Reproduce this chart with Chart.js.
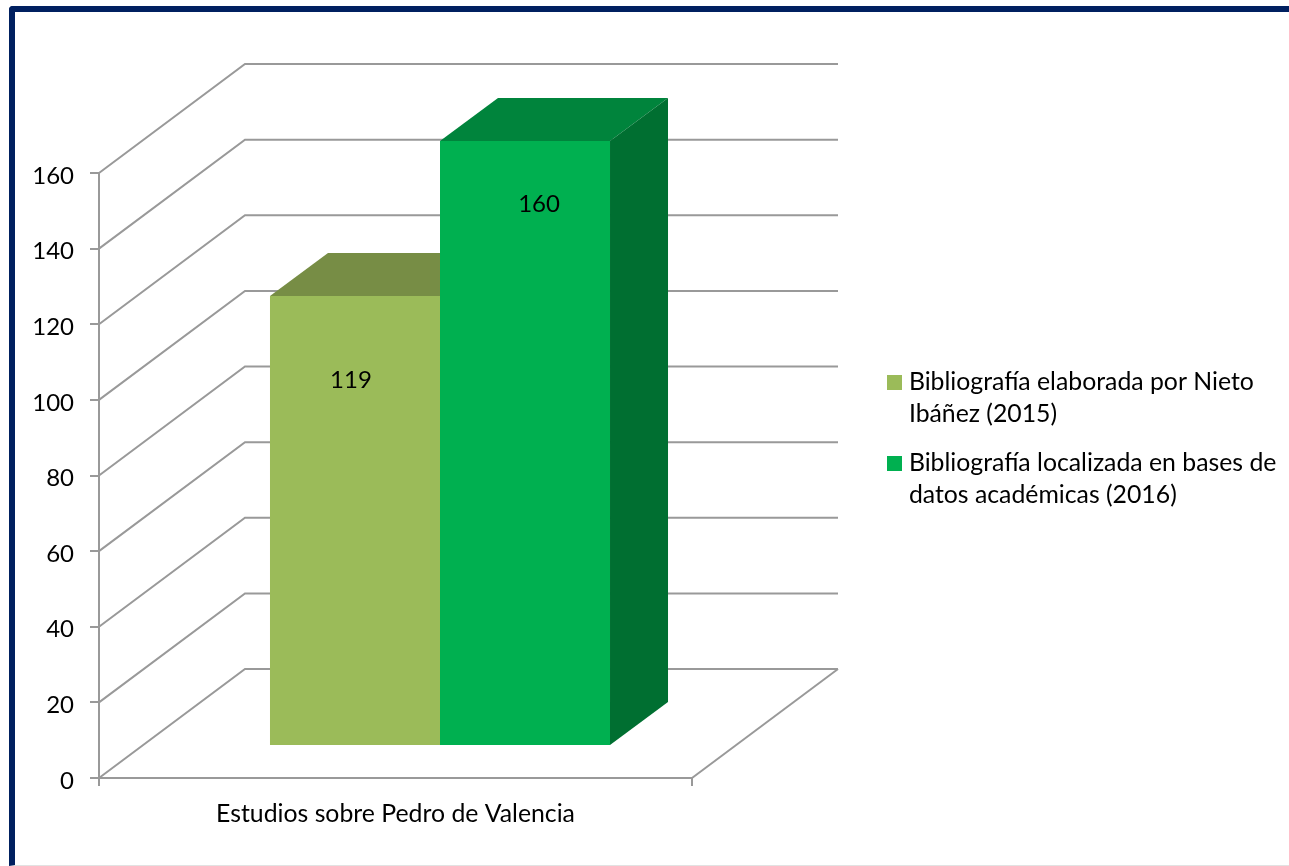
<!DOCTYPE html>
<html>
<head>
<meta charset="utf-8">
<script src="https://cdn.jsdelivr.net/npm/chart.js@4/dist/chart.umd.js"></script>
<style>
  html, body { margin: 0; background: #fff; overflow: hidden; }
  #wrap { position: relative; width: 1289px; height: 866px; }
  #frame { position: absolute; left: 9px; top: 6px; right: 0; bottom: 0; box-sizing: border-box;
           border-left: 6px solid #002060; border-top: 6px solid #002060; border-bottom: 1px solid #e2e2e2;
           border-top-left-radius: 4px; pointer-events: none; }
  canvas { display: block; }
</style>
</head>
<body>
<div id="wrap">
  <canvas id="barChart3d" width="1289" height="866"></canvas>
  <div id="frame"></div>
</div>
<script>
var categories = ['Estudios sobre Pedro de Valencia'];
var seriesNames = [
    ['Bibliografía elaborada por Nieto', 'Ibáñez (2015)'],
    ['Bibliografía localizada en bases de', 'datos académicas (2016)']
];
var nietoValues = [119];
var basesValues = [160];
var yMax = 160;
var yStep = 20;

var frontColors = ['#9bbb59', '#00b050'];
var topColors = ['#778d45', '#00843c'];
var sideColors = ['#657a3a', '#006f31'];

var fontName = 'Lato, sans-serif';
var gridColor = '#999999';

// fake 3D: how far the back wall and the bar depth sit from the front plane
var wallDx = 146, wallDy = -109;
var barDx = 58, barDy = -43;
var barShiftX = 44.5, barShiftY = -32;
var labelShift = [[-4, 84], [14, 63]];

function poly(ctx, pts, color) {
    ctx.fillStyle = color;
    ctx.beginPath();
    ctx.moveTo(pts[0][0], pts[0][1]);
    for (var i = 1; i < pts.length; i++) ctx.lineTo(pts[i][0], pts[i][1]);
    ctx.closePath();
    ctx.fill();
}

var box3d = {
    id: 'box3d',
    beforeLayout: function(chart) {
        // reserve a fixed strip for the legend so the front plane ends at x=692
        var legend = chart.legend;
        if (legend.fit !== legend.constructor.prototype.fit) return;
        legend.fit = function() {
            legend.constructor.prototype.fit.call(legend);
            legend.width = 597;
        };
    },
    beforeDatasetsDraw: function(chart) {
        var ctx = chart.ctx, yScale = chart.scales.y, area = chart.chartArea;

        // walls and floor
        ctx.save();
        ctx.strokeStyle = gridColor;
        ctx.lineWidth = 2;
        yScale.ticks.forEach(function(t) {
            var y = yScale.getPixelForValue(t.value);
            ctx.beginPath();
            ctx.moveTo(area.left, y);
            ctx.lineTo(area.left + wallDx, y + wallDy);
            ctx.lineTo(area.right + wallDx, y + wallDy);
            ctx.stroke();
        });
        ctx.beginPath();
        ctx.moveTo(area.right, area.bottom);
        ctx.lineTo(area.right + wallDx, area.bottom + wallDy);
        ctx.stroke();
        ctx.restore();

        // shift the bars off the front plane, the library draws the front faces after this
        ctx.save();
        ctx.translate(barShiftX, barShiftY);
        chart.data.datasets.forEach(function(ds, i) {
            var bar = chart.getDatasetMeta(i).data[0];
            var l = bar.x - bar.width / 2, r = bar.x + bar.width / 2;
            poly(ctx, [[l, bar.y], [l + barDx, bar.y + barDy], [r + barDx, bar.y + barDy], [r, bar.y]], topColors[i]);
            poly(ctx, [[r, bar.y], [r + barDx, bar.y + barDy], [r + barDx, bar.base + barDy], [r, bar.base]], sideColors[i]);
        });
    },
    afterDatasetsDraw: function(chart) {
        var ctx = chart.ctx;
        ctx.restore();

        ctx.save();
        ctx.fillStyle = '#000';
        ctx.font = '24px ' + fontName;
        ctx.textAlign = 'center';
        ctx.textBaseline = 'middle';
        chart.data.datasets.forEach(function(ds, i) {
            var bar = chart.getDatasetMeta(i).data[0];
            ctx.fillText(ds.data[0], bar.x + barShiftX + labelShift[i][0], bar.y + barShiftY + labelShift[i][1]);
        });
        ctx.restore();
    },
    beforeDraw: function(chart) {
        // legend sits past the back wall, not next to the chart area
        chart.legend.left = 875.5;
        chart.legend.top = 353;
    }
};

var barChart3d = new Chart(document.getElementById('barChart3d').getContext('2d'), {
    type: 'bar',
    data: {
        labels: categories,
        datasets: [
            { label: seriesNames[0], data: nietoValues, backgroundColor: frontColors[0], borderWidth: 0, clip: false },
            { label: seriesNames[1], data: basesValues, backgroundColor: frontColors[1], borderWidth: 0, clip: false }
        ]
    },
    plugins: [box3d],
    options: {
        responsive: false,
        animation: false,
        layout: { padding: { top: 173, left: 0, bottom: 0, right: 0 } },
        barPercentage: 1,
        categoryPercentage: 0.5734,
        scales: {
            x: {
                afterFit: function(scale) { scale.height = 88; },
                grid: { drawOnChartArea: false, color: gridColor, lineWidth: 2, tickLength: 8 },
                border: { color: gridColor, width: 2 },
                ticks: { color: '#000', font: { family: fontName, size: 24.8 }, padding: 13, maxRotation: 0 }
            },
            y: {
                min: 0,
                max: yMax,
                afterFit: function(scale) { scale.width = 99; },
                grid: { drawOnChartArea: false, color: gridColor, lineWidth: 2, tickLength: 9 },
                border: { color: gridColor, width: 2 },
                ticks: { stepSize: yStep, color: '#000', font: { family: fontName, size: 24 }, padding: 16, labelOffset: 3 }
            }
        },
        plugins: {
            tooltip: { enabled: false },
            legend: {
                position: 'right',
                align: 'start',
                labels: {
                    boxWidth: 4,
                    boxHeight: 4,
                    padding: 17,
                    color: '#000',
                    font: { family: fontName, size: 24.8, lineHeight: 32 / 24.8 },
                    generateLabels: function(chart) {
                        return chart.data.datasets.map(function(ds, i) {
                            return { text: ds.label, fillStyle: frontColors[i], strokeStyle: frontColors[i], lineWidth: 11, datasetIndex: i };
                        });
                    }
                }
            }
        }
    }
});
</script>
</body>
</html>
